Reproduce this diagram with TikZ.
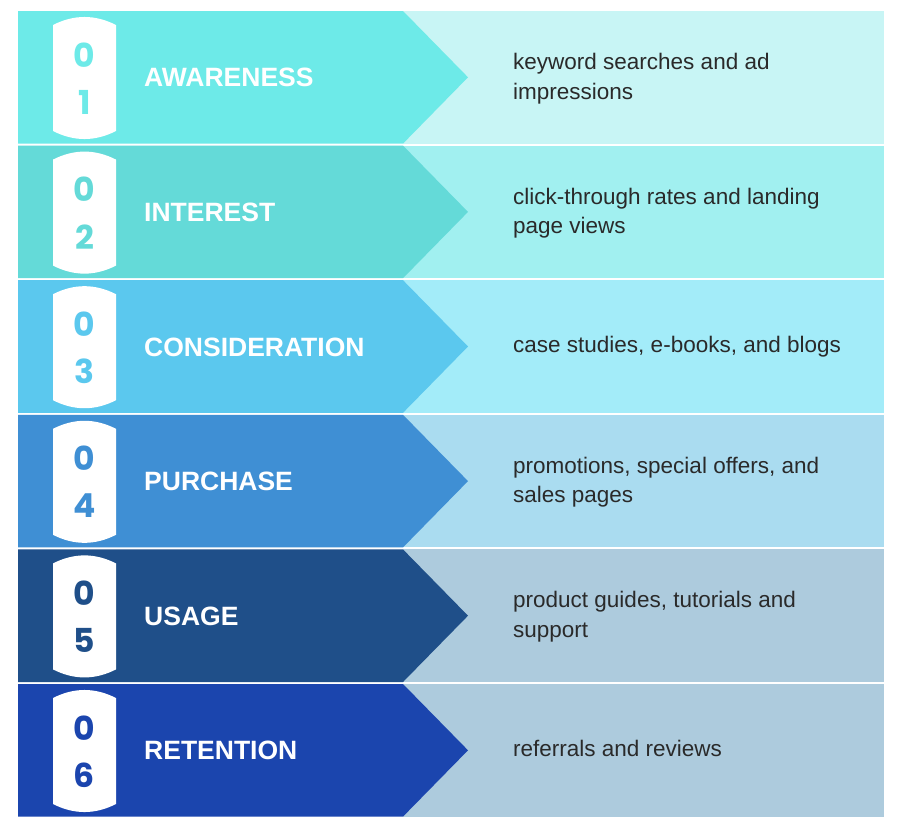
\documentclass[tikz,border=0pt]{standalone}
\usepackage{fontspec}
\setmainfont{Liberation Sans}
\newfontfamily\digitfont{Poppins}
\usepackage{tikz}

\definecolor{awaredark}{HTML}{6DEAE8}
\definecolor{awarelight}{HTML}{C8F5F5}
\definecolor{interdark}{HTML}{64DAD8}
\definecolor{interlight}{HTML}{A1F0F0}
\definecolor{considdark}{HTML}{5BC8EE}
\definecolor{considlight}{HTML}{A3ECF9}
\definecolor{purchdark}{HTML}{3F8FD4}
\definecolor{purchlight}{HTML}{AADCF0}
\definecolor{usagedark}{HTML}{1F4F89}
\definecolor{usagelight}{HTML}{ADCBDD}
\definecolor{retaindark}{HTML}{1B45AE}
\definecolor{retainlight}{HTML}{ADCBDD}
\definecolor{desctext}{HTML}{2A2A2A}

\tikzset{
  stagelabel/.style={anchor=base west, inner sep=0pt, text=white,
    font=\fontsize{26.5}{30}\selectfont\bfseries},
  stagedigit/.style={inner sep=0pt, font=\digitfont\fontsize{33}{36}\selectfont\bfseries},
  stagedesc/.style={anchor=base west, inner sep=0pt, align=left, text=desctext,
    font=\fontsize{22.5}{29.5}\selectfont},
}

% \stage{row top}{dark}{light}{number}{label}{description}{last baseline}
\def\stage#1#2#3#4#5#6#7{%
  \fill[#3] (403,#1) rectangle (884,{#1+132.6});
  \fill[#2] (18,#1) -- (403,#1) -- (468,{#1+66.3}) -- (403,{#1+132.6}) -- (18,{#1+132.6}) -- cycle;
  \fill[white] (53,{#1+14}) .. controls (74,{#1+3.3}) and (95,{#1+3.3}) .. (116,{#1+14})
    -- (116,{#1+120}) .. controls (95,{#1+130.7}) and (74,{#1+130.7}) .. (53,{#1+120}) -- cycle;
  \node[stagedigit, text=#2] (zero#4) at (84.5,{#1+66.3-22.5}) {0};
  \node[stagedigit, text=#2] (digit#4) at (84.5,{#1+66.3+25}) {#4};
  \node[stagelabel] (label#4) at (144,{#1+66.3+9.5}) {#5};
  \node[stagedesc] (desc#4) at (513,{#1+66.3+#7}) {#6};
}

\begin{document}
\begin{tikzpicture}[x=1pt,y=-1pt]
  %%%%% START %%%%%
  \useasboundingbox[fill=white] (0,0) rectangle (902,828);

  \stage{11}{awaredark}{awarelight}{1}{AWARENESS}{keyword searches and ad\\impressions}{21.7}
  \stage{145.6}{interdark}{interlight}{2}{INTEREST}{click-through rates and landing\\page views}{21.7}
  \stage{280.2}{considdark}{considlight}{3}{CONSIDERATION}{case studies, e-books, and blogs}{6}
  \stage{414.8}{purchdark}{purchlight}{4}{PURCHASE}{promotions, special offers, and\\sales pages}{21.7}
  \stage{549.4}{usagedark}{usagelight}{5}{USAGE}{product guides, tutorials and\\support}{21.7}
  \stage{684}{retaindark}{retainlight}{6}{RETENTION}{referrals and reviews}{6}

  %%%%% END %%%%%
\end{tikzpicture}
\end{document}
